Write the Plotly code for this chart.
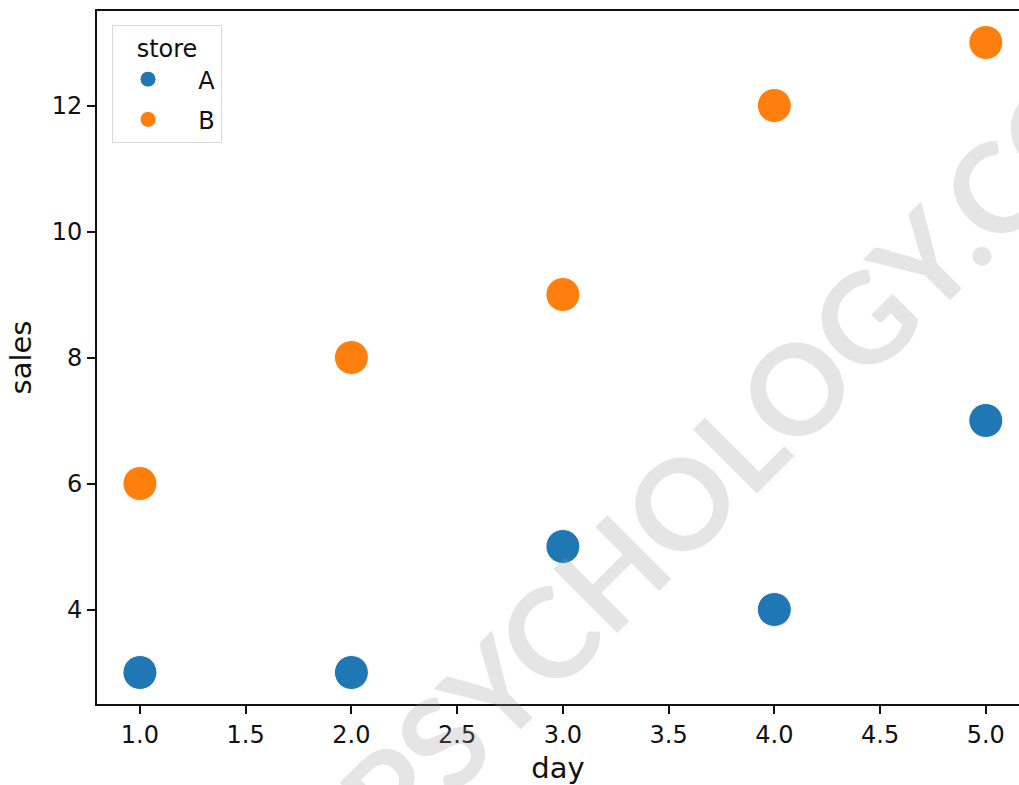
import plotly.graph_objects as go

# Daily sales for two stores
days = [1, 2, 3, 4, 5]
sales_a = [3, 3, 5, 4, 7]
sales_b = [6, 8, 9, 12, 13]
stores = ["A", "B"]
colors = ["#1f77b4", "#ff7f0e"]
x_ticks = [1.0, 1.5, 2.0, 2.5, 3.0, 3.5, 4.0, 4.5, 5.0]
y_ticks = [4, 6, 8, 10, 12]

FONT = "DejaVu Sans"
FS = 24

fig = go.Figure()
for name, vals, col in zip(stores, [sales_a, sales_b], colors):
    fig.add_trace(go.Scatter(
        x=days, y=vals, mode="markers", name="\u00a0\u00a0" + name, legendgroup=name,
        marker=dict(size=34, color=col, line=dict(color="white", width=1)),
    ))

fig.update_layout(
    width=1019, height=785,
    margin=dict(l=97, r=0, t=11, b=81),
    paper_bgcolor="white", plot_bgcolor="white",
    font=dict(family=FONT, size=FS, color="#111111"),
    showlegend=True,
    legend=dict(
        title=dict(text="store", side="top center", font=dict(size=FS)),
        x=0.0163, y=0.98, xanchor="left", yanchor="top",
        bgcolor="rgba(255,255,255,0.8)", bordercolor="#d9d9d9", borderwidth=1,
        itemsizing="trace", itemwidth=60, tracegroupgap=6, font=dict(size=FS),
    ),
    xaxis=dict(
        range=[0.797, 5.157], tickvals=x_ticks, tickformat=".1f",
        showgrid=False, zeroline=False,
        showline=True, linecolor="#111111", linewidth=2, mirror=True,
        ticks="outside", ticklen=8, tickwidth=2, tickcolor="#111111",
        title=dict(text="day", standoff=12),
    ),
    yaxis=dict(
        range=[2.5, 13.5], tickvals=y_ticks,
        showgrid=False, zeroline=False,
        showline=True, linecolor="#111111", linewidth=2,
        ticks="outside", ticklen=8, tickwidth=2, tickcolor="#111111",
        title=dict(text="sales", standoff=12),
    ),
)

# Diagonal watermark text
fig.add_annotation(
    text="PSYCHOLOGY.COM", xref="paper", yref="paper",
    x=0.728, y=0.419, xanchor="center", yanchor="middle",
    textangle=-45, showarrow=False,
    font=dict(family="Lato", size=125, color="rgba(150,150,150,0.25)", weight="bold"),
)

fig.write_html("out.html")
